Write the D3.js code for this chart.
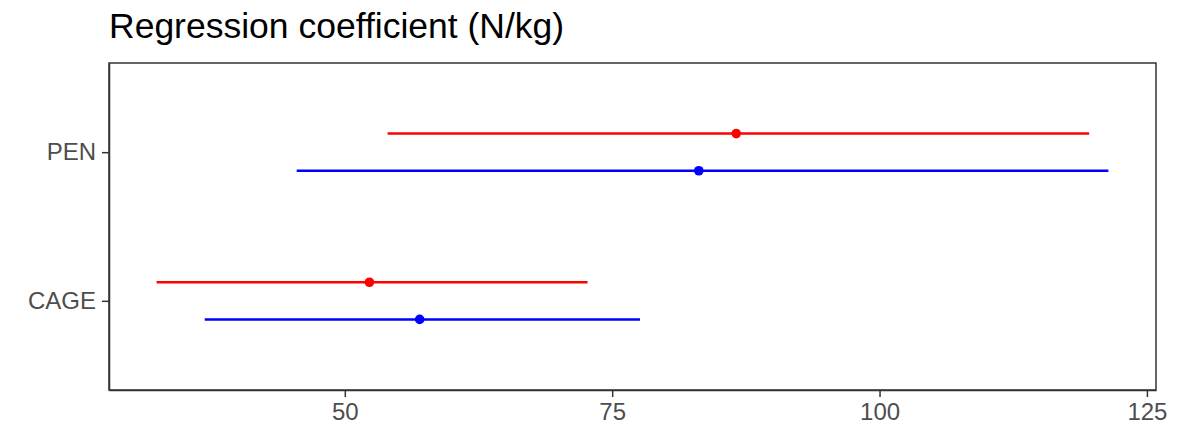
<!DOCTYPE html>
<html>
<head>
<meta charset="utf-8">
<script src="https://cdn.jsdelivr.net/npm/d3@7"></script>
<style>
  body { margin: 0; background: #fff; }
  svg { display: block; font-family: "Liberation Sans", Arial, sans-serif; }
</style>
</head>
<body>
<div id="chart"></div>
<script>
// categories, bottom to top in the plot
const categories = ["CAGE", "PEN"];
// two series per category (red drawn above, blue below)
const seriesNames = ["red", "blue"];
const estimate = {
  red: [52.3, 86.6],
  blue: [57.0, 83.1]
};
const lower = {
  red: [32.4, 54.0],
  blue: [36.9, 45.5]
};
const upper = {
  red: [72.7, 119.6],
  blue: [77.6, 121.4]
};
const xTicks = [50, 75, 100, 125];
const colors = { red: "#ff0000", blue: "#0000ff" };

const width = 1177, height = 431;
const margin = { top: 63, right: 21, bottom: 41, left: 109 };

const rows = [];
seriesNames.forEach((s, si) => {
  categories.forEach((c, ci) => {
    rows.push({ series: s, si, cat: c, ci, est: estimate[s][ci], lo: lower[s][ci], hi: upper[s][ci] });
  });
});

// ggplot-like 5% expansion
const lo = d3.min(rows, (d) => d.lo), hi = d3.max(rows, (d) => d.hi);
const pad = (hi - lo) * 0.05;

const x = d3.scaleLinear()
  .domain([lo - pad, hi + pad])
  .range([margin.left, width - margin.right]);

// discrete axis: positions 1..n with 0.6 expansion
const yPos = d3.scaleLinear()
  .domain([0.4, categories.length + 0.6])
  .range([height - margin.bottom, margin.top]);
const dodge = 0.125;

const svg = d3.select("#chart").append("svg")
  .attr("width", width).attr("height", height);

svg.append("text")
  .attr("x", margin.left)
  .attr("y", 38)
  .attr("font-size", 35.5)
  .attr("fill", "#000")
  .text("Regression coefficient (N/kg)");

svg.append("rect")
  .attr("x", margin.left).attr("y", margin.top)
  .attr("width", width - margin.left - margin.right)
  .attr("height", height - margin.top - margin.bottom)
  .attr("fill", "none").attr("stroke", "#333").attr("stroke-width", 1.5);

const xAxis = svg.append("g")
  .attr("transform", `translate(0,${height - margin.bottom})`)
  .call(d3.axisBottom(x).tickValues(xTicks).tickSize(7).tickSizeOuter(0).tickPadding(6));
xAxis.select(".domain").attr("stroke", "#333").attr("stroke-width", 1.5);
xAxis.selectAll(".tick line").attr("stroke", "#333").attr("stroke-width", 1.5);
xAxis.selectAll("text").attr("font-size", 24).attr("fill", "#4d4d4d")
  .attr("font-family", "Liberation Sans, Arial, sans-serif");

const yAxis = svg.append("g")
  .attr("transform", `translate(${margin.left},0)`)
  .call(d3.axisLeft(yPos).tickValues(categories.map((c, i) => i + 1))
    .tickFormat((v) => categories[v - 1]).tickSize(7).tickSizeOuter(0).tickPadding(6));
yAxis.select(".domain").attr("stroke", "#333").attr("stroke-width", 1.5);
yAxis.selectAll(".tick line").attr("stroke", "#333").attr("stroke-width", 1.5);
yAxis.selectAll("text").attr("font-size", 24).attr("fill", "#4d4d4d")
  .attr("font-family", "Liberation Sans, Arial, sans-serif");

const yOf = (d) => yPos(d.ci + 1 + (d.si === 0 ? dodge : -dodge));

const g = svg.append("g");
g.selectAll("line.ci")
  .data(rows)
  .join("line")
  .attr("class", "ci")
  .attr("x1", (d) => x(d.lo))
  .attr("x2", (d) => x(d.hi))
  .attr("y1", yOf)
  .attr("y2", yOf)
  .attr("stroke", (d) => colors[d.series])
  .attr("stroke-width", 2.5);

g.selectAll("circle.est")
  .data(rows)
  .join("circle")
  .attr("class", "est")
  .attr("cx", (d) => x(d.est))
  .attr("cy", yOf)
  .attr("r", 4.8)
  .attr("fill", (d) => colors[d.series]);
</script>
</body>
</html>
